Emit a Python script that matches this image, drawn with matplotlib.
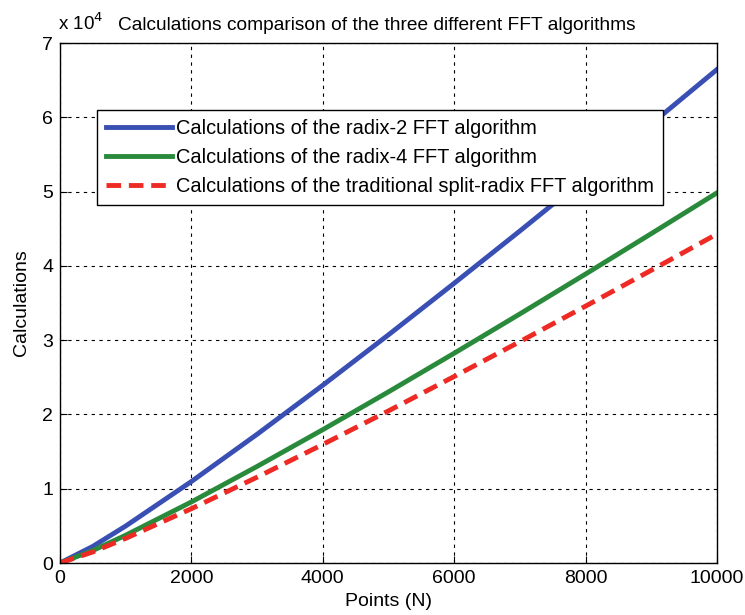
import matplotlib.pyplot as plt

plt.rcParams['font.family'] = ['Liberation Sans', 'DejaVu Sans']

# values (Calculations vs N)
points = [0, 500, 1000, 2000, 3000, 4000, 5000, 6000, 7000, 8000, 9000, 10000]
radix2 = [0, 2240, 4980, 10970, 17330, 23930, 30720, 37660, 44700, 51860, 59110, 66440]
radix4 = [0, 1680, 3740, 8220, 13000, 17950, 23040, 28240, 33530, 38900, 44340, 49830]
split_radix = [0, 1490, 3320, 7310, 11550, 15960, 20480, 25110, 29800, 34580, 39410, 44290]

labels = ["Calculations of the radix-2 FFT algorithm",
          "Calculations of the radix-4 FFT algorithm",
          "Calculations of the traditional split-radix FFT algorithm"]

fig = plt.figure(figsize=(7.45, 6.15), dpi=100)
ax = fig.add_axes([60 / 745, 1 - 563 / 615, 657 / 745, 520 / 615])

ax.plot(points, radix2, color="#3a4fb3", lw=3.5, label=labels[0])
ax.plot(points, radix4, color="#2a8a3c", lw=3.5, label=labels[1])
ax.plot(points, split_radix, color="#ee2a24", lw=3.5, ls=(0, (3, 1.6)), label=labels[2])

ax.set_xlim(0, 10000)
ax.set_ylim(0, 70000)
ax.set_xticks(range(0, 10001, 2000))
ax.set_yticks(range(0, 70001, 10000))
ax.set_yticklabels([str(i) for i in range(8)])
ax.tick_params(direction="in", labelsize=14, length=5, color="black", pad=5)
ax.grid(True, color="black", ls=(0, (3, 4)), lw=0.8)
for s in ax.spines.values():
    s.set_linewidth(1)

ax.set_xlabel("Points (N)", fontsize=14, labelpad=4)
ax.set_ylabel("Calculations", fontsize=14, labelpad=9)

fig.text(58 / 745, 1 - 30 / 615, r"x 10$^{4}$", fontsize=13.5, va="baseline")
fig.text(118 / 745, 1 - 30 / 615,
         "Calculations comparison of the three different FFT algorithms",
         fontsize=13.8, va="baseline")

leg = ax.legend(loc="upper left", bbox_to_anchor=(37 / 657, 1 - 67 / 520),
                fontsize=14.4, fancybox=False, edgecolor="black", framealpha=1,
                handlelength=3.3, handletextpad=0.2, borderpad=0.45,
                labelspacing=0.5, borderaxespad=0)
leg.get_frame().set_linewidth(1)

fig.savefig("out.png", dpi=100)
